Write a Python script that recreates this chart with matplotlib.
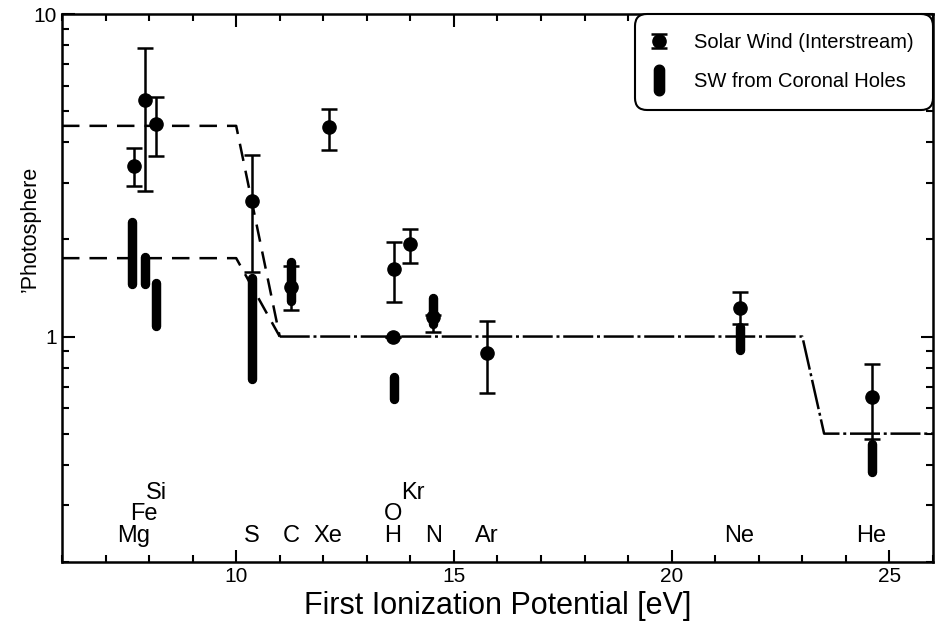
import numpy as np
import matplotlib
matplotlib.use('Agg')
import matplotlib.pyplot as plt
from matplotlib.lines import Line2D
from matplotlib.path import Path
from matplotlib.container import ErrorbarContainer
from matplotlib.legend_handler import HandlerErrorbar

plt.rcParams['font.family'] = ['Liberation Sans', 'DejaVu Sans']

# solar wind (interstream): FIP [eV], ratio, lower / upper error limits
sw_elem = ['Mg', 'Fe', 'Si', 'S', 'C', 'Xe', 'O', 'H', 'Kr', 'N', 'Ar', 'Ne', 'He']
sw_fip = [7.65, 7.90, 8.15, 10.36, 11.26, 12.13, 13.62, 13.60, 14.00, 14.53, 15.76, 21.56, 24.59]
sw_val = [3.37, 5.41, 4.55, 2.63, 1.42, 4.46, 1.62, 1.00, 1.93, 1.15, 0.89, 1.23, 0.65]
sw_lo = [2.92, 2.82, 3.62, 1.58, 1.21, 3.78, 1.28, 1.00, 1.69, 1.03, 0.67, 1.09, 0.48]
sw_hi = [3.84, 7.84, 5.52, 3.65, 1.65, 5.07, 1.96, 1.00, 2.16, 1.17, 1.12, 1.37, 0.82]

# SW from coronal holes: range of ratios
ch_elem = ['Mg', 'Fe', 'Si', 'S', 'C', 'O', 'N', 'Ne', 'He']
ch_fip = [7.60, 7.90, 8.15, 10.36, 11.26, 13.62, 14.53, 21.56, 24.59]
ch_lo = [1.46, 1.46, 1.08, 0.74, 1.29, 0.64, 1.09, 0.91, 0.38]
ch_hi = [2.27, 1.76, 1.47, 1.52, 1.70, 0.75, 1.32, 1.07, 0.465]

# FIP model curves
model_hi_x = [6, 10, 11]
model_hi_y = [4.5, 4.5, 1.0]
model_lo_x = [6, 10, 11]
model_lo_y = [1.75, 1.75, 1.0]
model_x = [11, 23, 23.5, 26]
model_y = [1.0, 1.0, 0.5, 0.5]

# element labels along the bottom (stacking row)
lab_elem = ['Mg', 'Fe', 'Si', 'S', 'C', 'Xe', 'H', 'O', 'Kr', 'N', 'Ar', 'Ne', 'He']
lab_x = [7.65, 7.87, 8.17, 10.36, 11.26, 12.1, 13.6, 13.6, 14.05, 14.53, 15.76, 21.56, 24.59]
lab_row = [0, 1, 2, 0, 0, 0, 0, 1, 2, 0, 0, 0, 0]
row_y = [0.241, 0.282, 0.328]

fig = plt.figure(figsize=(9.39, 6.25), dpi=100)
ax = fig.add_axes([0.066, 0.1008, 0.9276, 0.8768])

ax.plot(model_hi_x, model_hi_y, color='black', lw=1.8, ls=(0, (7, 4)))
ax.plot(model_lo_x, model_lo_y, color='black', lw=1.8, ls=(0, (7, 4)))
ax.plot(model_x, model_y, color='black', lw=1.8, ls=(0, (12, 1.5, 1.2, 1.5)))

# coronal hole ranges as thick rounded bars
for x, lo, hi in zip(ch_fip, ch_lo, ch_hi):
    ax.plot([x, x], [lo, hi], color='black', lw=6.8, solid_capstyle='round')

val = np.array(sw_val)
yerr = [val - np.array(sw_lo), np.array(sw_hi) - val]
sw = ax.errorbar(sw_fip, sw_val, yerr=yerr, fmt='o', color='black', ms=9.5,
                 elinewidth=1.8, capsize=5.5, capthick=1.8)

for name, x, r in zip(lab_elem, lab_x, lab_row):
    ax.text(x, row_y[r], name, ha='center', va='center', fontsize=17)

ax.set_yscale('log')
ax.set_xlim(6, 26)
ax.set_ylim(0.2, 10)
ax.set_xticks([10, 15, 20, 25])
ax.set_xticks(np.arange(6, 27, 1), minor=True)
ax.set_yticks([1, 10])
ax.set_yticklabels(['1', '10'])
ax.yaxis.set_minor_formatter(matplotlib.ticker.NullFormatter())
ax.tick_params(which='both', direction='in', top=True, right=True, width=1.5,
               labelsize=15)
ax.tick_params(which='major', length=9)
ax.tick_params(which='minor', length=5)
for s in ax.spines.values():
    s.set_linewidth(1.8)

ax.set_xlabel('First Ionization Potential [eV]', fontsize=22, labelpad=4)
fig.text(30 / 939, 1 - 229 / 625, '\u2019Photosphere', rotation=90,
         ha='center', va='center', fontsize=15.5)

# legend with a vertical capsule symbol for the coronal-hole bars
t = np.linspace(0, np.pi, 16)
verts = np.concatenate([np.c_[0.5 * np.cos(t), 1 + 0.5 * np.sin(t)],
                        np.c_[0.5 * np.cos(t + np.pi), -1 + 0.5 * np.sin(t + np.pi)]])
capsule = Path(np.vstack([verts, verts[:1]]), closed=True)
ch_handle = Line2D([], [], ls='none', marker=capsule, ms=22, color='black')

leg = ax.legend([sw, ch_handle], ['Solar Wind (Interstream)', 'SW from Coronal Holes'],
                loc='upper right', borderaxespad=0, fontsize=14.5, frameon=True,
                fancybox=True, edgecolor='black', framealpha=1,
                handlelength=0.5, handletextpad=1.5, labelspacing=1.0, borderpad=0.95,
                handler_map={ErrorbarContainer: HandlerErrorbar(xerr_size=0.25,
                                                                yerr_size=0.36)})
leg.get_frame().set_linewidth(1.5)
leg.get_frame().set_boxstyle('round', pad=0, rounding_size=0.6)

fig.savefig('out.png', dpi=100)
